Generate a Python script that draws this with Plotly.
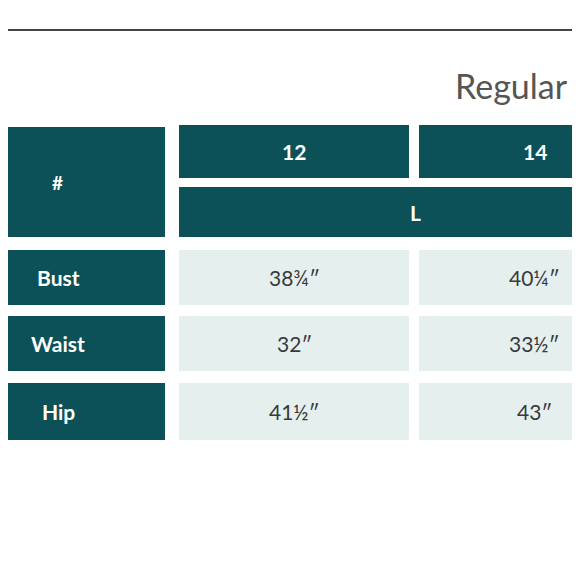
import plotly.graph_objects as go

# size chart data
sizes = ['12', '14']
size_letter = 'L'
rows = ['Bust', 'Waist', 'Hip']
values = {
    '12': ['38¾″', '32″', '41½″'],
    '14': ['40¼″', '33½″', '43″'],
}

dark = '#0b5157'
light = '#e4efee'
txt = '#3a3a3a'

# layout of the grid (pixel-like coordinates, y goes down)
label_x = (0, 165)
col_x = [(179, 409), (419, 650)]
head1_y = (125, 178)
head2_y = (187, 237)
row_y = [(250, 305), (316, 371), (383, 440)]

fig = go.Figure()
shapes = []
annots = []

def cell(x0, x1, y0, y1, color, text, tcolor, size=21, bold=False):
    shapes.append(dict(type='rect', xref='x', yref='y', x0=x0, x1=x1, y0=y0, y1=y1,
                       fillcolor=color, line=dict(width=0), layer='below'))
    t = f'<b>{text}</b>' if bold else text
    annots.append(dict(x=(x0 + x1) / 2, y=(y0 + y1) / 2, xref='x', yref='y', text=t,
                       showarrow=False, font=dict(color=tcolor, size=size, family='Lato')))

cell(label_x[0] - 20, label_x[1], 127, 237, dark, '', 'white')
annots.append(dict(x=57, y=182, xref='x', yref='y', text='<b>#</b>', showarrow=False,
                   font=dict(color='white', size=19, family='Lato')))
for i, s in enumerate(sizes):
    cell(col_x[i][0], col_x[i][1], head1_y[0], head1_y[1], dark, s, 'white', 21, True)
cell(col_x[0][0], col_x[1][1] + 300, head2_y[0], head2_y[1], dark, '', 'white')
annots.append(dict(x=415, y=212, xref='x', yref='y', text='<b>' + size_letter + '</b>',
                   showarrow=False, font=dict(color='white', size=21, family='Lato')))
for j, r in enumerate(rows):
    shapes.append(dict(type='rect', xref='x', yref='y', x0=-20, x1=label_x[1],
                       y0=row_y[j][0], y1=row_y[j][1], fillcolor=dark, line=dict(width=0),
                       layer='below'))
    annots.append(dict(x=58, y=(row_y[j][0] + row_y[j][1]) / 2, xref='x', yref='y',
                       text='<b>' + r + '</b>', showarrow=False,
                       font=dict(color='white', size=21, family='Lato')))
    for i, s in enumerate(sizes):
        cell(col_x[i][0], col_x[i][1], row_y[j][0], row_y[j][1], light, values[s][j], txt, 21)

shapes.append(dict(type='line', xref='x', yref='y', x0=-20, x1=600, y0=30, y1=30,
                   line=dict(color='#444444', width=2)))
annots.append(dict(x=453, y=85, xref='x', yref='y', text='Regular', showarrow=False,
                   xanchor='left', font=dict(color='#555555', size=34, family='Lato')))

fig.add_trace(go.Scatter(x=[8, 588], y=[8, 588], mode='markers', marker=dict(opacity=0),
                         hoverinfo='skip', showlegend=False))
# page body has an 8px margin, so shift the ranges to line up with the window
fig.update_layout(width=580, height=580, margin=dict(l=0, r=0, t=0, b=0),
                  paper_bgcolor='white', plot_bgcolor='white',
                  shapes=shapes, annotations=annots,
                  xaxis=dict(range=[8, 588], visible=False, fixedrange=True),
                  yaxis=dict(range=[588, 8], visible=False, fixedrange=True))
fig.write_html('out.html')
